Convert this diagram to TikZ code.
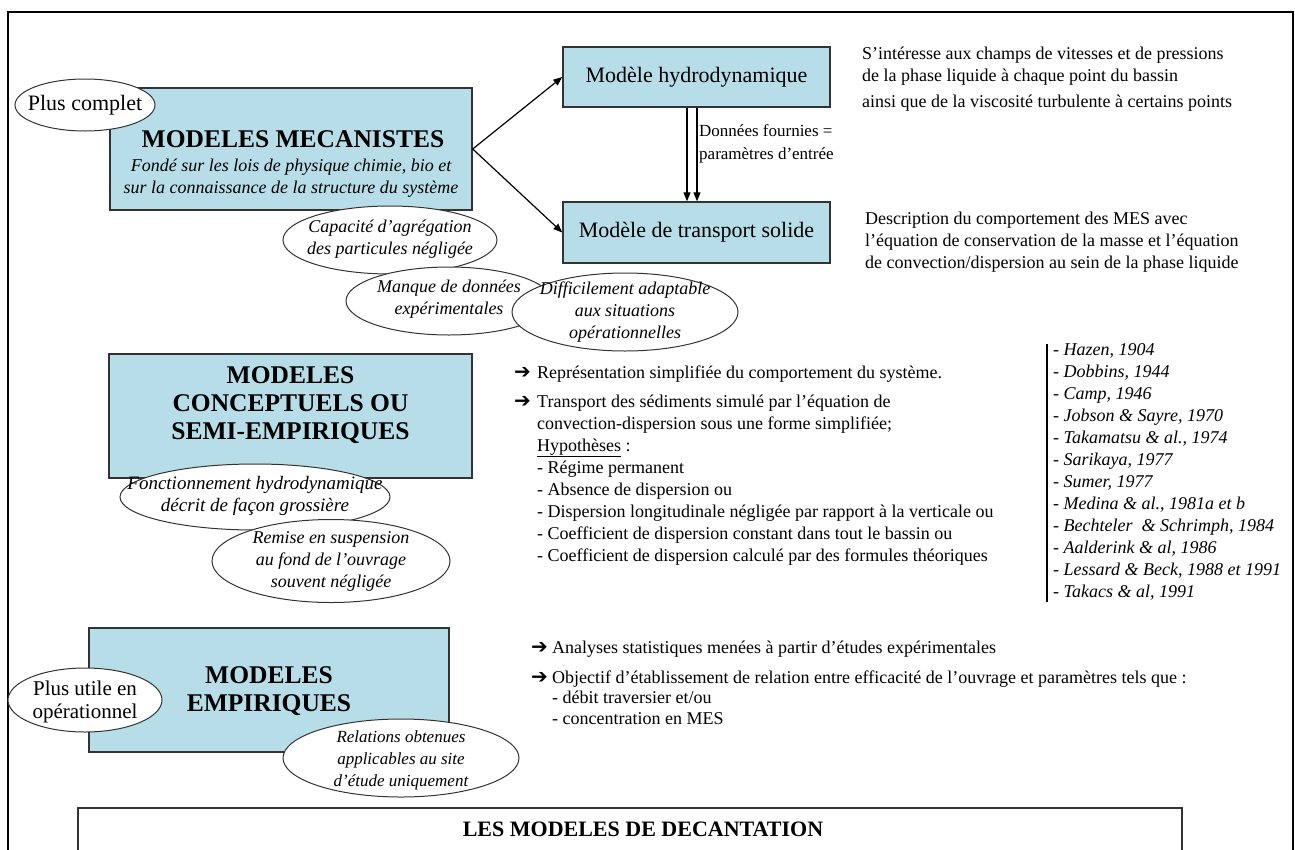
\documentclass[tikz,border=0pt]{standalone}
\usepackage{fontspec}
\setmainfont{Liberation Serif}
\newfontfamily\symfont{DejaVu Sans}
\usetikzlibrary{shapes.geometric,arrows.meta}
\definecolor{boxfill}{HTML}{B7DEE8}
\definecolor{edge}{HTML}{333333}
\begin{document}
\begin{tikzpicture}[x=1pt,y=-1pt,
  modbox/.style={draw=edge, fill=boxfill, line width=1.4pt, inner sep=0pt},
  bubble/.style={ellipse, draw=edge, fill=white, line width=1pt, inner sep=0pt},
  btext/.style={align=center, inner sep=0pt, font=\itshape\fontsize{18}{22}\selectfont},
  arr/.style={-{Triangle[length=9pt,width=7pt]}, line width=1.2pt},
  title/.style={align=center, inner sep=0pt, font=\bfseries\fontsize{25.5}{28}\selectfont},
  txt/.style={anchor=base west, inner sep=0pt, font=\fontsize{18}{22}\selectfont},
  itxt/.style={anchor=base west, inner sep=0pt, font=\itshape\fontsize{18}{22}\selectfont},
  bul/.style={anchor=base west, inner sep=0pt, font=\symfont\fontsize{20}{22}\selectfont}]
\useasboundingbox (0,0) rectangle (1295,849);
% outer frame
\coordinate (fa) at (8,870);
\coordinate (fb) at (8,12);
\coordinate (fc) at (1293,12);
\coordinate (fd) at (1293,870);
\draw[line width=1.5pt] (fa) -- (fb) -- (fc) -- (fd);

% ---- MODELES MECANISTES
\node[modbox, minimum width=362, minimum height=122] (mec) at (291,149) {};
\node[title] (mect) at (293,139) {MODELES MECANISTES};
\node[align=center, inner sep=0pt, font=\itshape\fontsize{18}{22}\selectfont] (mecd) at (291,178)
  {Fondé sur les lois de physique chimie, bio et\\sur la connaissance de la structure du système};
\node[bubble, minimum width=140, minimum height=52] (pc) at (85,105) {};
\node[inner sep=0pt, font=\fontsize{22}{24}\selectfont] (pct) at (pc) {Plus complet};

\node[modbox, minimum width=267, minimum height=60, font=\fontsize{22}{24}\selectfont] (hyd) at (696.5,77) {Modèle hydrodynamique};
\node[modbox, minimum width=267, minimum height=61, font=\fontsize{22}{24}\selectfont] (tra) at (696.5,232.5) {Modèle de transport solide};
\draw[arr] (mec.east) -- (hyd.west);
\draw[arr] (mec.east) -- (tra.west);
\draw[arr] ([xshift=-9.5pt]hyd.south) -- ([xshift=-9.5pt]tra.north);
\draw[arr] ([xshift=0.5pt]hyd.south) -- ([xshift=0.5pt]tra.north);
\node[anchor=west, align=left, inner sep=0pt, font=\fontsize{17}{23}\selectfont] (don) at (699,144)
  {Données fournies =\\paramètres d’entrée};

\node[txt] (h1) at (862,59) {S’intéresse aux champs de vitesses et de pressions};
\node[txt] (h2) at (862,81) {de la phase liquide à chaque point du bassin};
\node[txt] (h3) at (862,107) {ainsi que de la viscosité turbulente à certains\ points};
\node[txt] (t1) at (865,224) {Description du comportement des MES avec};
\node[txt] (t2) at (865,246) {l’équation de conservation de la masse et l’équation};
\node[txt] (t3) at (865,268) {de convection/dispersion au sein de la phase liquide};

\node[bubble, minimum width=214, minimum height=68] (cap) at (390,240) {};
\node[btext] (capt) at (390,239) {Capacité d’agrégation\\des particules négligée};
\node[bubble, minimum width=206, minimum height=68] (man) at (449,301) {};
\node[btext] (mant) at (449,299) {Manque de données\\expérimentales};
\node[bubble, minimum width=226, minimum height=78] (dif) at (625,312) {};
\node[btext] (dift) at (625,312) {Difficilement adaptable\\aux situations\\opérationnelles};

% ---- CONCEPTUELS
\node[modbox, minimum width=363, minimum height=124] (con) at (290.5,416) {};
\node[title] (cont) at (290.5,405) {MODELES\\CONCEPTUELS OU\\SEMI-EMPIRIQUES};
\node[bubble, minimum width=270, minimum height=66] (fon) at (255,497) {};
\node[btext, font=\itshape\fontsize{19}{22}\selectfont] (font) at (255,496) {Fonctionnement hydrodynamique\\décrit de façon grossière};
\node[bubble, minimum width=238, minimum height=83] (rem) at (331,561) {};
\node[btext] (remt) at (331,561) {Remise en suspension\\au fond de l’ouvrage\\souvent négligée};

\node[bul] (b1) at (514,378) {➔};
\node[txt] (m1) at (537,378) {Représentation simplifiée du comportement du système.};
\node[bul] (b2) at (514,407) {➔};
\node[txt] (m2) at (537,407) {Transport des sédiments simulé par l’équation de};
\node[txt] (m3) at (537,429) {convection-dispersion sous une forme simplifiée;};
\node[txt] (m4) at (537,451) {\underline{Hypothèses} :};
\node[txt] (m5) at (537,473) {- Régime permanent};
\node[txt] (m6) at (537,495) {- Absence de dispersion ou};
\node[txt] (m7) at (537,517) {- Dispersion longitudinale négligée par rapport à la verticale ou};
\node[txt] (m8) at (537,539) {- Coefficient de dispersion constant dans tout le bassin ou};
\node[txt] (m9) at (537,561) {- Coefficient de dispersion calculé par des formules théoriques};

% references list
\coordinate (la) at (1047,344);
\coordinate (lb) at (1047,602);
\draw[line width=1.2pt] (la) -- (lb);
\node[itxt] (r1) at (1053,355) {- Hazen, 1904};
\node[itxt] (r2) at (1053,377) {- Dobbins, 1944};
\node[itxt] (r3) at (1053,399) {- Camp, 1946};
\node[itxt] (r4) at (1053,421) {- Jobson \& Sayre, 1970};
\node[itxt] (r5) at (1053,443) {- Takamatsu \& al., 1974};
\node[itxt] (r6) at (1053,465) {- Sarikaya, 1977};
\node[itxt] (r7) at (1053,487) {- Sumer, 1977};
\node[itxt] (r8) at (1053,509) {- Medina \& al., 1981a et b};
\node[itxt] (r9) at (1053,531) {- Bechteler\ \ \& Schrimph, 1984};
\node[itxt] (r10) at (1053,553) {- Aalderink \& al, 1986};
\node[itxt] (r11) at (1053,575) {- Lessard \& Beck, 1988 et 1991};
\node[itxt] (r12) at (1053,597) {- Takacs \& al, 1991};

% ---- EMPIRIQUES
\node[modbox, minimum width=360, minimum height=124] (emp) at (269,690) {};
\node[title] (empt) at (269,691) {MODELES\\EMPIRIQUES};
\node[bubble, minimum width=154, minimum height=64] (pu) at (85,700) {};
\node[align=center, inner sep=0pt, font=\fontsize{21}{23}\selectfont] (put) at (85,702) {Plus utile en\\opérationnel};
\node[bubble, minimum width=236, minimum height=78] (rel) at (401,758) {};
\node[btext, font=\itshape\fontsize{17}{22}\selectfont] (relt) at (401,760) {Relations obtenues\\applicables au site\\d’étude uniquement};

\node[bul] (b3) at (531,653) {➔};
\node[txt] (e1) at (552,653) {Analyses statistiques menées à partir d’études expérimentales};
\node[bul] (b4) at (531,683) {➔};
\node[txt] (e2) at (552,683) {Objectif d’établissement de relation entre efficacité de l’ouvrage et paramètres tels que :};
\node[txt] (e3) at (552,703) {- débit traversier et/ou};
\node[txt] (e4) at (552,724) {- concentration en MES};

% ---- bottom title box
\node[draw=edge, line width=1.5pt, minimum width=1104, minimum height=50, inner sep=0pt] (bot) at (630,833) {};
\node[inner sep=0pt, font=\bfseries\fontsize{22}{24}\selectfont] (bott) at (643,829) {LES MODELES DE DECANTATION};
\end{tikzpicture}
\end{document}
